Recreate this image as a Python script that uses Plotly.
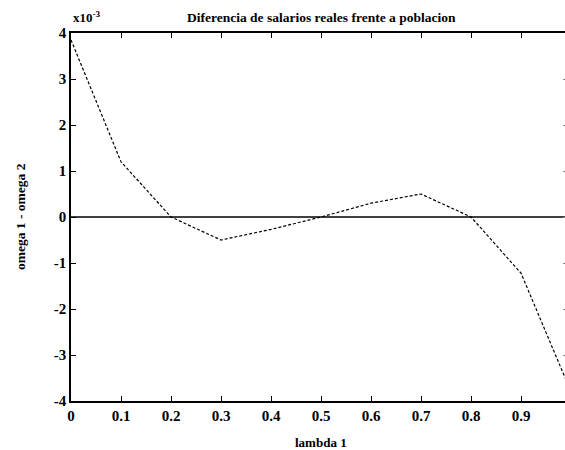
import plotly.graph_objects as go

# Data (y in units of 1e-3)
lam = [0.0, 0.1, 0.2, 0.3, 0.4, 0.5, 0.6, 0.7, 0.8, 0.9, 1.0]
diff = [3.85, 1.2, 0.0, -0.5, -0.27, 0.0, 0.3, 0.5, 0.0, -1.22, -3.8]
zero_x = [0.0, 1.0]
zero_y = [0.0, 0.0]
x_ticks = [0.0, 0.1, 0.2, 0.3, 0.4, 0.5, 0.6, 0.7, 0.8, 0.9, 1.0]
x_ticklabels = ["0", "0.1", "0.2", "0.3", "0.4", "0.5", "0.6", "0.7", "0.8", "0.9", "1"]
y_ticks = [4, 3, 2, 1, 0, -1, -2, -3, -4]
y_ticklabels = ["4", "3", "2", "1", "0", "-1", "-2", "-3", "-4"]

title_text = "Diferencia de salarios reales frente a poblacion"
xlabel = "lambda 1"
ylabel = "omega 1 - omega 2"

FONT = "Liberation Serif"

fig = go.Figure()
fig.add_trace(go.Scatter(x=zero_x, y=zero_y, mode="lines",
                         line=dict(color="black", width=1.5), showlegend=False,
                         hoverinfo="skip"))
fig.add_trace(go.Scatter(x=lam, y=diff, mode="lines",
                         line=dict(color="black", width=1.2, dash="3px,2px"),
                         showlegend=False))
# invisible trace for the right-hand tick marks
fig.add_trace(go.Scatter(x=[0.5], y=[0], yaxis="y2", mode="markers",
                         marker=dict(opacity=0), showlegend=False, hoverinfo="skip"))

fig.update_layout(
    width=565, height=450,
    margin=dict(l=71, r=0, t=33, b=49),
    paper_bgcolor="white", plot_bgcolor="white",
    font=dict(family=FONT, color="black"),
    xaxis=dict(range=[0, 0.988], tickvals=x_ticks, ticktext=x_ticklabels,
               showline=True, linecolor="black", linewidth=1.5,
               mirror="ticks", ticks="inside", ticklen=5, tickwidth=1,
               tickcolor="black", showgrid=False, zeroline=False,
               tickfont=dict(family=FONT, size=15, color="black", weight="bold")),
    yaxis=dict(range=[-4, 4], tickvals=y_ticks, ticktext=y_ticklabels,
               showline=True, linecolor="black", linewidth=1.5,
               mirror=False, ticks="inside", ticklen=5, tickwidth=1,
               tickcolor="black", showgrid=False, zeroline=False,
               tickfont=dict(family=FONT, size=15, color="black", weight="bold")),
    yaxis2=dict(range=[-4, 4], tickvals=y_ticks, overlaying="y", side="right",
                showline=False, ticks="inside", ticklen=2, tickwidth=1,
                tickcolor="#888", showticklabels=False, showgrid=False,
                zeroline=False),
    annotations=[
        dict(text=title_text, x=0.5, xref="x", y=1, yref="paper", yanchor="bottom",
             yshift=6, showarrow=False,
             font=dict(family=FONT, size=13.5, color="black", weight="bold")),
        dict(text="x10<sup>-3</sup>", x=0, xref="x", xanchor="left", y=1, yref="paper",
             yanchor="bottom", yshift=6, showarrow=False,
             font=dict(family=FONT, size=13, color="black", weight="bold")),
        dict(text=xlabel, x=0.5, xref="x", y=0, yref="paper", yanchor="top",
             yshift=-32, showarrow=False,
             font=dict(family=FONT, size=13, color="black", weight="bold")),
        dict(text=ylabel, x=0, xref="paper", xanchor="center", xshift=-51,
             y=0.5, yref="paper", textangle=-90, showarrow=False,
             font=dict(family=FONT, size=13.5, color="black", weight="bold")),
    ],
)

fig.write_html("out.html")
